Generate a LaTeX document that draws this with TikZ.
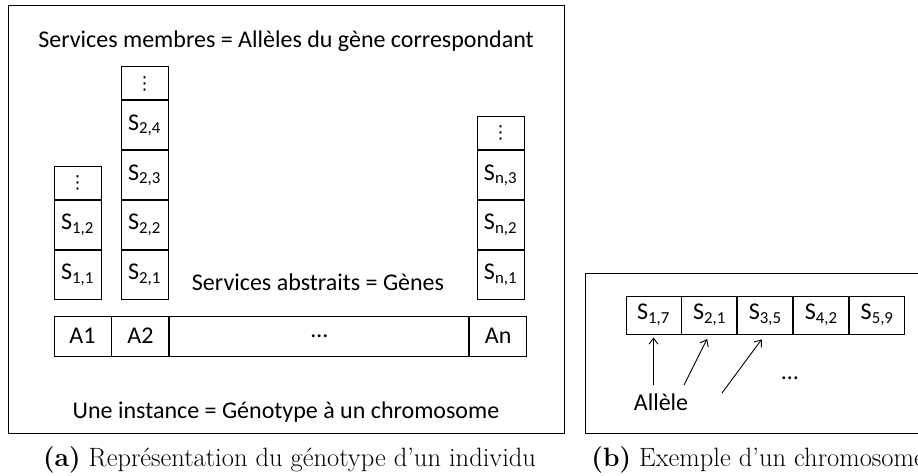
\documentclass[tikz,border=0pt]{standalone}
\usepackage{fontspec}
\setsansfont{Carlito}
\newfontfamily\symbolfont{DejaVu Sans}
\usetikzlibrary{arrows.meta,positioning}

\begin{document}
\begin{tikzpicture}[x=1pt,y=-1pt,line width=0.9pt,font=\sffamily\fontsize{24}{28}\selectfont,>={Straight Barb[length=6pt,width=9pt]},
  cell/.style={draw,minimum width=47pt,minimum height=49pt,inner sep=0pt},
  dotcell/.style={cell,minimum height=33pt,font=\symbolfont\fontsize{18}{20}\selectfont},
  gene/.style={draw,minimum width=57pt,minimum height=40pt,inner sep=0pt},
  allele/.style={draw,minimum width=55pt,minimum height=38pt,inner sep=0pt},
  legende/.style={font=\rmfamily\fontsize{26.5}{30}\selectfont,anchor=base,inner sep=0pt}]
\useasboundingbox (0,0) rectangle (918,475);
\draw (8,5) rectangle (564,433);
\draw (585,273) rectangle (930,433);
\node[anchor=base] (membres) at (286,47) {Services membres = Allèles du gène correspondant};
\node[cell] (s11) at (77.5,275) {S\textsubscript{1,1}};
\node[cell,above=0pt of s11] (s12) {S\textsubscript{1,2}};
\node[dotcell,above=0pt of s12] (s1x) {⋮};
\node[cell] (s21) at (144.5,275) {S\textsubscript{2,1}};
\node[cell,above=0pt of s21] (s22) {S\textsubscript{2,2}};
\node[cell,above=0pt of s22] (s23) {S\textsubscript{2,3}};
\node[cell,above=0pt of s23] (s24) {S\textsubscript{2,4}};
\node[dotcell,above=0pt of s24] (s2x) {⋮};
\node[cell] (sn1) at (500.5,275) {S\textsubscript{n,1}};
\node[cell,above=0pt of sn1] (sn2) {S\textsubscript{n,2}};
\node[cell,above=0pt of sn2] (sn3) {S\textsubscript{n,3}};
\node[dotcell,above=0pt of sn3] (snx) {⋮};
\node[anchor=base] (abstraits) at (318,290) {Services abstraits = Gènes};
\node[gene] (a1) at (82.5,336) {A1};
\node[gene,right=0pt of a1] (a2) {A2};
\node[gene,minimum width=299pt,right=0pt of a2] (ax) {…};
\node[gene,right=0pt of ax] (an) {An};
\node[anchor=base] (instance) at (286,418) {Une instance = Génotype à un chromosome};
\node[allele] (c1) at (653.5,315) {S\textsubscript{1,7}};
\node[allele,right=0pt of c1] (c2) {S\textsubscript{2,1}};
\node[allele,right=0pt of c2] (c3) {S\textsubscript{3,5}};
\node[allele,right=0pt of c3] (c4) {S\textsubscript{4,2}};
\node[allele,right=0pt of c4] (c5) {S\textsubscript{5,9}};
\coordinate (p1) at (653.5,385);
\coordinate (p2) at (684,385);
\coordinate (p3) at (722,393);
\draw[->,shorten >=3pt] (p1) -- (c1.south);
\draw[->,shorten >=5pt] (p2) -- (c2.south);
\draw[->,shorten >=6pt] (p3) -- (c3.south);
\node[anchor=base] (allele) at (661,410) {Allèle};
\node (suite) at (790,378) {…};
\node[legende] (capa) at (289.5,466) {\textbf{(a)} Représentation du génotype d'un individu};
\node[legende,anchor=base west] (capb) at (591,466) {\textbf{(b)} Exemple d'un chromosome};
\end{tikzpicture}
\end{document}
